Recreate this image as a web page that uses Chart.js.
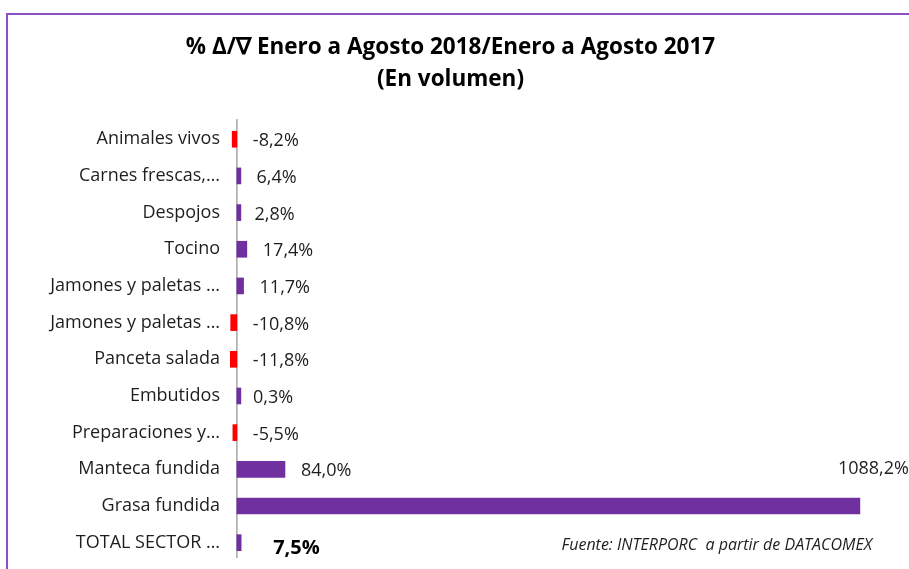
<!DOCTYPE html>
<html>
<head>
<meta charset="utf-8">
<script src="https://cdn.jsdelivr.net/npm/chart.js@4.4.0/dist/chart.umd.min.js"></script>
<style>
  body { margin: 0; background: #fff; }
  #wrap { position: relative; width: 909px; height: 569px; overflow: hidden; }
  #frame { position: absolute; left: 6px; top: 13px; width: 1000px; height: 700px;
           border-left: 2px solid #8a4fc4; border-top: 2px solid #8a4fc4; }
  canvas { position: absolute; left: 0; top: 0; }
</style>
</head>
<body>
<div id="wrap">
  <div id="frame"></div>
  <canvas id="myChart" width="909" height="569"></canvas>
</div>
<script>
// categorias y variacion % (ene-ago 2018 / ene-ago 2017)
const categorias = [
    "Animales vivos",
    "Carnes frescas,…",
    "Despojos",
    "Tocino",
    "Jamones y paletas …",
    "Jamones y paletas …",
    "Panceta salada",
    "Embutidos",
    "Preparaciones y…",
    "Manteca fundida",
    "Grasa fundida",
    "TOTAL SECTOR …"
];
const variacion = [-8.2, 6.4, 2.8, 17.4, 11.7, -10.8, -11.8, 0.3, -5.5, 84.0, 1088.2, 7.5];
const etiquetas = ["-8,2%", "6,4%", "2,8%", "17,4%", "11,7%", "-10,8%", "-11,8%", "0,3%", "-5,5%", "84,0%", "1088,2%", "7,5%"];

const fuente = "Fuente: INTERPORC  a partir de DATACOMEX";
const FONT = "'Open Sans', Lato, sans-serif";

const colores = variacion.map(v => v < 0 ? "#ff0000" : "#7030a0");

// eje vertical en cero + etiquetas de valor
const etiquetasPlugin = {
    id: "etiquetas",
    beforeDatasetsDraw(chart) {
        const ctx = chart.ctx;
        const x0 = chart.scales.x.getPixelForValue(0);
        const area = chart.chartArea;
        ctx.save();
        ctx.strokeStyle = "#a6a6a6";
        ctx.lineWidth = 1.5;
        ctx.beginPath();
        ctx.moveTo(x0, area.top - 2);
        ctx.lineTo(x0, area.bottom - 3);
        ctx.stroke();
        ctx.restore();
    },
    afterDatasetsDraw(chart) {
        const ctx = chart.ctx;
        const meta = chart.getDatasetMeta(0);
        const x = chart.scales.x;
        ctx.save();
        ctx.textBaseline = "middle";
        ctx.textAlign = "left";
        meta.data.forEach((bar, i) => {
            const total = i === categorias.length - 1;
            ctx.font = total ? "bold 20px " + FONT : "18px " + FONT;
            ctx.fillStyle = total ? "#000" : "#1e1e1e";
            const txt = etiquetas[i];
            let px = x.getPixelForValue(Math.max(variacion[i], 0)) + (total ? 32 : 16);
            let py = bar.y + (total ? 6 : 2);
            const w = ctx.measureText(txt).width;
            if (px + w > chart.width) {
                // no cabe: encima de la barra
                px = bar.x - 22;
                py = bar.y - 37;
            }
            ctx.fillText(txt, px, py);
        });
        // fuente
        ctx.font = "italic 16px " + FONT;
        ctx.fillStyle = "#1e1e1e";
        ctx.textAlign = "right";
        ctx.fillText(fuente, 872, 545);
        ctx.restore();
    }
};

new Chart(document.getElementById("myChart"), {
    type: "bar",
    data: {
        labels: categorias,
        datasets: [{
            data: variacion,
            backgroundColor: colores,
            barThickness: 16,
            minBarLength: 4
        }]
    },
    options: {
        indexAxis: "y",
        responsive: false,
        animation: false,
        layout: { padding: { top: 0, right: 8, bottom: 8, left: 0 } },
        plugins: {
            legend: { display: false },
            tooltip: { enabled: false },
            title: {
                display: true,
                text: ["% Δ/∇ Enero a Agosto 2018/Enero a Agosto 2017", "(En volumen)"],
                color: "#000",
                font: { family: FONT, size: 22.5, weight: "bold", lineHeight: 1.42 },
                padding: { top: 32, bottom: 25 }
            }
        },
        scales: {
            x: {
                display: false,
                min: -12,
                max: 1160
            },
            y: {
                afterFit: s => {
                    s.width = 230;
                    s.paddingTop = 0;
                    s.paddingBottom = 0;
                },
                grid: { display: false, drawTicks: false },
                border: { display: false },
                ticks: {
                    color: "#1e1e1e",
                    padding: 10,
                    font: { family: FONT, size: 18 }
                }
            }
        }
    },
    plugins: [etiquetasPlugin]
});
</script>
</body>
</html>
